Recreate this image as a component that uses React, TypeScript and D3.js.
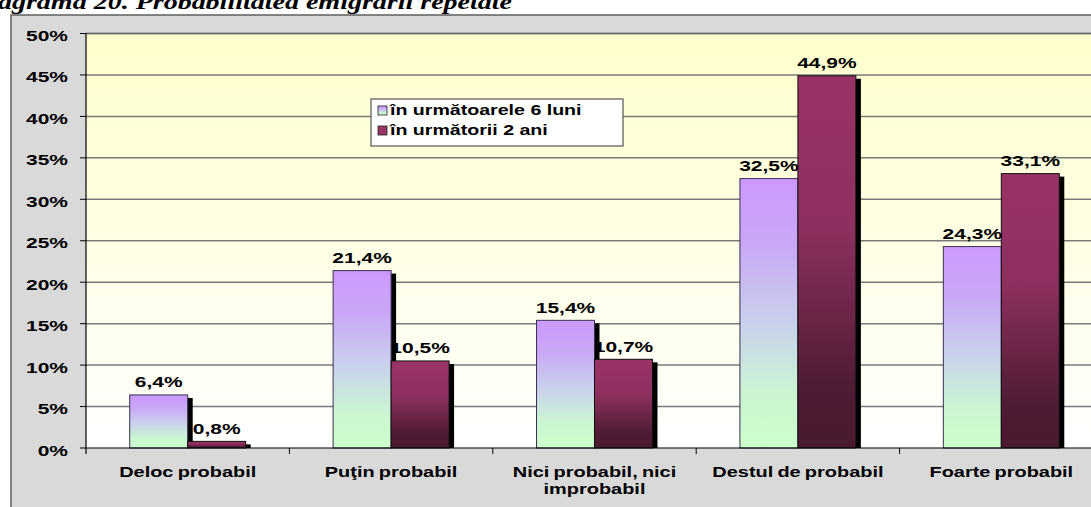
import React, { useEffect, useRef } from "react";
import * as d3 from "d3";

const categories = [
  "Deloc probabil",
  "Puţin probabil",
  "Nici probabil, nici|improbabil",
  "Destul de probabil",
  "Foarte probabil",
];
const seriesNames = ["în următoarele 6 luni", "în următorii 2 ani"];
const next6Months = [6.4, 21.4, 15.4, 32.5, 24.3];
const next2Years = [0.8, 10.5, 10.7, 44.9, 33.1];
const valueLabels6 = ["6,4%", "21,4%", "15,4%", "32,5%", "24,3%"];
const valueLabels2 = ["0,8%", "10,5%", "10,7%", "44,9%", "33,1%"];
const yTicks = [0, 5, 10, 15, 20, 25, 30, 35, 40, 45, 50];

const App: React.FC = () => {
  const svgRef = useRef<SVGSVGElement>(null);

  useEffect(() => {
    const svg = d3.select(svgRef.current);
    svg.selectAll("*").remove();

    const W = 1091;
    const H = 507;
    const plot = { left: 86, right: 1103, top: 33.5, bottom: 448 };
    const sx = 1.4; // the source picture is stretched horizontally
    const font = "'Liberation Sans', Arial, sans-serif";

    const x = d3.scaleBand<string>().domain(categories).range([plot.left, plot.right]);
    const xs = d3
      .scaleBand<string>()
      .domain(seriesNames)
      .range([0, x.bandwidth()])
      .paddingOuter(0.754);
    const y = d3.scaleLinear().domain([0, 50]).range([plot.bottom, plot.top]);

    const defs = svg.append("defs");
    const bg = defs.append("linearGradient").attr("id", "bg").attr("x1", 0).attr("y1", 0).attr("x2", 0).attr("y2", 1);
    bg.append("stop").attr("offset", 0).attr("stop-color", "#ffffcc");
    bg.append("stop").attr("offset", 1).attr("stop-color", "#ffffff");

    const g1 = defs.append("linearGradient").attr("id", "g1").attr("x1", 0).attr("y1", 0).attr("x2", 0).attr("y2", 1);
    [
      [0, "#cc99ff"],
      [0.25, "#c9a8f6"],
      [0.55, "#c9d3ec"],
      [0.8, "#cbf5d2"],
      [1, "#ccffcc"],
    ].forEach(([o, c]) => g1.append("stop").attr("offset", o).attr("stop-color", c as string));

    const g2 = defs.append("linearGradient").attr("id", "g2").attr("x1", 0).attr("y1", 0).attr("x2", 0).attr("y2", 1);
    [
      [0, "#993366"],
      [0.4, "#8e305f"],
      [0.85, "#4d1b33"],
      [1, "#4a1a30"],
    ].forEach(([o, c]) => g2.append("stop").attr("offset", o).attr("stop-color", c as string));

    // chart area
    svg
      .append("rect")
      .attr("x", 11)
      .attr("y", 15)
      .attr("width", W)
      .attr("height", H)
      .attr("fill", "#d9d9d9")
      .attr("stroke", "#5f5f5f")
      .attr("stroke-width", 1.5);

    // title (cut off on the left and top in the source)
    svg
      .append("text")
      .attr("transform", `translate(512,9) scale(${sx},1)`)
      .attr("text-anchor", "end")
      .attr("font-family", "'Liberation Serif', 'Times New Roman', serif")
      .attr("font-weight", "bold")
      .attr("font-style", "italic")
      .attr("font-size", 20)
      .text("Diagrama 20. Probabilitatea emigrării repetate");

    // plot area
    svg
      .append("rect")
      .attr("x", plot.left)
      .attr("y", plot.top)
      .attr("width", plot.right - plot.left)
      .attr("height", plot.bottom - plot.top)
      .attr("fill", "url(#bg)");

    // gridlines
    svg
      .append("g")
      .selectAll("line")
      .data(yTicks.filter((d) => d > 0))
      .join("line")
      .attr("x1", plot.left)
      .attr("x2", plot.right)
      .attr("y1", (d) => y(d))
      .attr("y2", (d) => y(d))
      .attr("stroke", "#7a7a7a")
      .attr("stroke-width", 1.5);

    // y ticks + labels
    const yAxis = svg.append("g");
    yAxis
      .selectAll("line")
      .data(yTicks)
      .join("line")
      .attr("x1", plot.left - 6)
      .attr("x2", plot.left)
      .attr("y1", (d) => y(d))
      .attr("y2", (d) => y(d))
      .attr("stroke", "#000");
    yAxis
      .selectAll("text")
      .data(yTicks)
      .join("text")
      .attr("transform", (d) => `translate(68,${y(d) + 7.5}) scale(${sx},1)`)
      .attr("text-anchor", "end")
      .attr("font-family", font)
      .attr("font-weight", "bold")
      .attr("font-size", 15)
      .text((d) => `${d}%`);

    // bars
    const groups = svg
      .append("g")
      .selectAll("g")
      .data(categories)
      .join("g")
      .attr("transform", (d) => `translate(${x(d)},0)`);

    const seriesData = [next6Months, next2Years];
    const seriesLabels = [valueLabels6, valueLabels2];
    seriesNames.forEach((s, si) => {
      const bx = xs(s)!;
      const bw = xs.bandwidth();
      // shadow
      groups
        .append("rect")
        .attr("x", bx + 5)
        .attr("y", (_, i) => y(seriesData[si][i]) + 3)
        .attr("width", bw)
        .attr("height", (_, i) => Math.max(0, plot.bottom - y(seriesData[si][i]) - 3))
        .attr("fill", "#000");
      groups
        .append("rect")
        .attr("x", bx)
        .attr("y", (_, i) => y(seriesData[si][i]))
        .attr("width", bw)
        .attr("height", (_, i) => plot.bottom - y(seriesData[si][i]))
        .attr("fill", si === 0 ? "url(#g1)" : "url(#g2)")
        .attr("stroke", si === 0 ? "#3a3050" : "#111")
        .attr("stroke-width", 1);
    });

    // value labels on top
    seriesNames.forEach((s, si) => {
      const cx = xs(s)! + xs.bandwidth() / 2;
      groups
        .append("text")
        .attr("transform", (_, i) => `translate(${cx},${y(seriesData[si][i]) - 7.5}) scale(${sx},1)`)
        .attr("text-anchor", "middle")
        .attr("font-family", font)
        .attr("font-weight", "bold")
        .attr("font-size", 15)
        .text((_, i) => seriesLabels[si][i]);
    });

    // plot border lines
    svg
      .append("line")
      .attr("x1", plot.left)
      .attr("x2", plot.right)
      .attr("y1", plot.top)
      .attr("y2", plot.top)
      .attr("stroke", "#6a6a6a")
      .attr("stroke-width", 1.5);
    svg
      .append("line")
      .attr("x1", plot.left)
      .attr("x2", plot.left)
      .attr("y1", plot.top)
      .attr("y2", plot.bottom + 6)
      .attr("stroke", "#000")
      .attr("stroke-width", 1.2);
    svg
      .append("line")
      .attr("x1", plot.left)
      .attr("x2", plot.right)
      .attr("y1", plot.bottom)
      .attr("y2", plot.bottom)
      .attr("stroke", "#000")
      .attr("stroke-width", 1.2);

    // category ticks
    svg
      .append("g")
      .selectAll("line")
      .data(categories.slice(1))
      .join("line")
      .attr("x1", (d) => x(d)!)
      .attr("x2", (d) => x(d)!)
      .attr("y1", plot.bottom)
      .attr("y2", plot.bottom + 6)
      .attr("stroke", "#000");

    // category labels
    const catText = svg
      .append("g")
      .selectAll("text")
      .data(categories)
      .join("text")
      .attr("transform", (d) => `translate(${x(d)! + x.bandwidth() / 2},477) scale(1.33,1)`)
      .attr("text-anchor", "middle")
      .attr("font-family", font)
      .attr("font-weight", "bold")
      .attr("font-size", 15)
      .attr("word-spacing", -1);
    catText
      .selectAll("tspan")
      .data((d) => d.split("|"))
      .join("tspan")
      .attr("x", 0)
      .attr("dy", (_, i) => (i === 0 ? 0 : 17))
      .text((d) => d);

    // legend
    const lg = svg.append("g").attr("transform", "translate(371,99)");
    lg.append("rect")
      .attr("width", 252)
      .attr("height", 47)
      .attr("fill", "#fff")
      .attr("stroke", "#555")
      .attr("stroke-width", 1.2);
    const items = lg
      .selectAll("g")
      .data(seriesNames)
      .join("g")
      .attr("transform", (_, i) => `translate(7,${7 + i * 20})`);
    items
      .append("rect")
      .attr("width", 9)
      .attr("height", 9)
      .attr("fill", (_, i) => (i === 0 ? "url(#g1)" : "#993366"))
      .attr("stroke", "#222")
      .attr("stroke-width", 0.8);
    items
      .append("text")
      .attr("transform", `translate(12,9) scale(${sx},1)`)
      .attr("font-family", font)
      .attr("font-weight", "bold")
      .attr("font-size", 14)
      .text((d) => d);

    return () => {
      svg.selectAll("*").remove();
    };
  }, []);

  return (
    <svg
      ref={svgRef}
      width="1091"
      height="507"
      style={{ position: "absolute", left: 0, top: 0, background: "#fff" }}
    />
  );
};

export default App;
